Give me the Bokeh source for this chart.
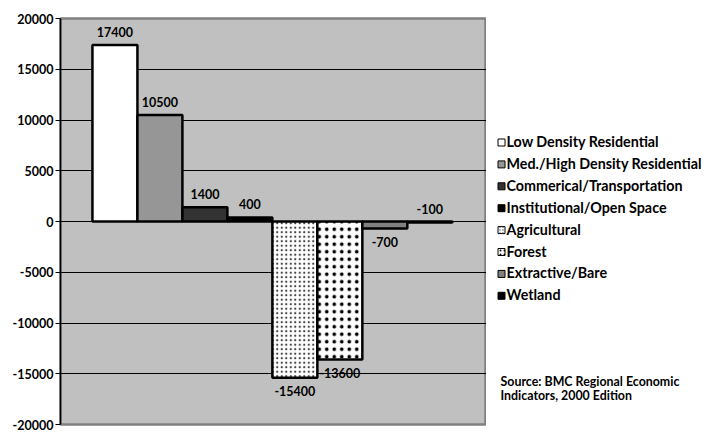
from bokeh.plotting import figure
from bokeh.layouts import row
from bokeh.models import Range1d, FixedTicker, PrintfTickFormatter
from bokeh.core.properties import value
from bokeh.embed import file_html
from bokeh.resources import INLINE

categories = ["Low Density Residential", "Med./High Density Residential",
              "Commerical/Transportation", "Institutional/Open Space",
              "Agricultural", "Forest", "Extractive/Bare", "Wetland"]
changes = [17400, 10500, 1400, 400, -15400, -13600, -700, -100]
label_side = ["above", "above", "above", "above", "below", "below", "below", "above"]
y_ticks = [-20000, -15000, -10000, -5000, 0, 5000, 10000, 15000, 20000]
source_lines = ["Source: BMC Regional Economic", "Indicators, 2000 Edition"]

fills = ["#FFFFFF", "#969696", "#333333", "#000000", "#FFFFFF", "#FFFFFF", "#808080", "#000000"]
hatch_styles = {
    4: dict(hatch_pattern="dot", hatch_color="#404040", hatch_scale=4.5, hatch_weight=1.5),
    5: dict(hatch_pattern="dot", hatch_color="#000000", hatch_scale=7.5, hatch_weight=4.2),
}
legend_hatch = {
    4: dict(hatch_pattern="dot", hatch_color="#505050", hatch_scale=3, hatch_weight=1),
    5: dict(hatch_pattern="dot", hatch_color="#000000", hatch_scale=4, hatch_weight=1.8),
}

FONT = "Lato"
TOP, BOTTOM, H = 18, 7, 431

# ---------------- main chart ----------------
p = figure(width=486, height=H, output_backend="svg", toolbar_location=None,
           x_range=Range1d(-1.21, 8.26), y_range=Range1d(-20000, 20000),
           min_border_left=60, min_border_right=0, min_border_top=TOP, min_border_bottom=BOTTOM)
p.background_fill_color = "#C0C0C0"
p.border_fill_color = "white"
p.outline_line_color = "#808080"
p.outline_line_width = 2.5

p.xaxis.visible = False
p.xgrid.visible = False
p.ygrid.grid_line_color = "black"
p.ygrid.grid_line_width = 1
p.yaxis.ticker = FixedTicker(ticks=y_ticks)
p.yaxis.formatter = PrintfTickFormatter(format="%d")
p.yaxis.axis_line_color = "black"
p.yaxis.axis_line_width = 1.5
p.yaxis.major_tick_line_color = "black"
p.yaxis.major_tick_out = 5
p.yaxis.major_tick_in = 0
p.yaxis.minor_tick_line_color = None
p.yaxis.major_label_text_font = FONT
p.yaxis.major_label_text_font_style = "bold"
p.yaxis.major_label_text_font_size = "12.5px"
p.yaxis.major_label_text_color = "black"
p.yaxis.major_label_standoff = 2

for i, v in enumerate(changes):
    kw = hatch_styles.get(i, {})
    p.vbar(x=[i], top=[v], bottom=0, width=1.0, fill_color=fills[i],
           line_color="black", line_width=2.5, **kw)

up_x, up_y, up_t, dn_x, dn_y, dn_t = [], [], [], [], [], []
for i, (v, side) in enumerate(zip(changes, label_side)):
    if side == "above":
        up_x.append(i); up_y.append(max(v, 0)); up_t.append(str(v))
    else:
        dn_x.append(i); dn_y.append(v); dn_t.append(str(v))
p.text(x=up_x, y=up_y, text=up_t, text_align="center", text_baseline="middle",
       y_offset=-13, text_font=value(FONT), text_font_style="bold",
       text_font_size="12.5px", text_color="black")
p.text(x=dn_x, y=dn_y, text=dn_t, text_align="center", text_baseline="middle",
       y_offset=13, text_font=value(FONT), text_font_style="bold",
       text_font_size="12.5px", text_color="black")

# ---------------- legend + source panel (page-pixel coordinates) ----------------
q = figure(width=219, height=H, output_backend="svg", toolbar_location=None,
           x_range=Range1d(486, 705), y_range=Range1d(H - BOTTOM, TOP),
           min_border_left=0, min_border_right=0,
           min_border_top=TOP, min_border_bottom=BOTTOM)
q.axis.visible = False
q.grid.visible = False
q.outline_line_color = None
q.background_fill_color = "white"
q.border_fill_color = "white"

row_y = [141 + 21.9 * i for i in range(len(categories))]
for i, cat in enumerate(categories):
    kw = legend_hatch.get(i, {})
    q.rect(x=[501], y=[row_y[i] + 1], width=7, height=7, fill_color=fills[i],
           line_color="black", line_width=1, **kw)
q.text(x=[506] * len(categories), y=row_y, text=categories, text_align="left",
       text_baseline="middle", text_font=value(FONT), text_font_style="bold",
       text_font_size="14.3px", text_color="black")

q.text(x=[500] * len(source_lines), y=[381, 395], text=source_lines, text_align="left",
       text_baseline="middle", text_font=value(FONT), text_font_style="bold",
       text_font_size="12.4px", text_color="black")

layout = row(p, q)
open("out.html", "w").write(file_html(layout, INLINE))
